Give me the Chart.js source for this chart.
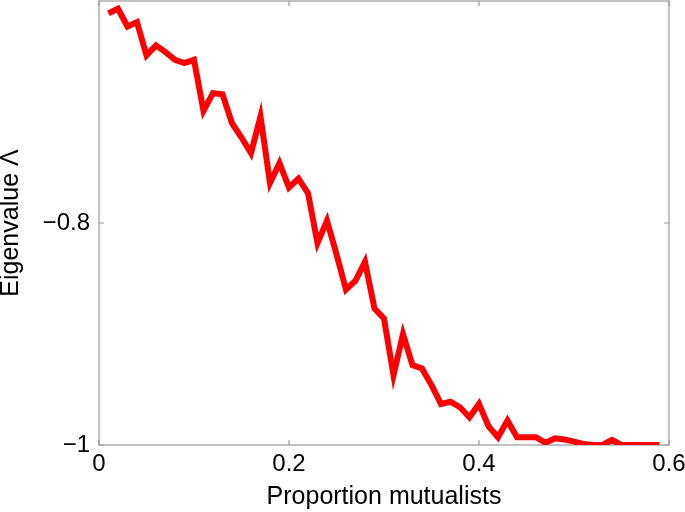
<!DOCTYPE html>
<html>
<head>
<meta charset="utf-8">
<script src="https://cdn.jsdelivr.net/npm/chart.js@4/dist/chart.umd.min.js"></script>
<style>
  html, body { margin: 0; padding: 0; background: #fff; }
  #wrap { width: 685px; height: 512px; position: relative; }
</style>
</head>
<body>
<div id="wrap"><canvas id="c" width="685" height="512"></canvas></div>
<script>
// ---- data ----
const proportions = [0.01,0.02,0.03,0.04,0.05,0.06,0.07,0.08,0.09,0.10,
  0.11,0.12,0.13,0.14,0.15,0.16,0.17,0.18,0.19,0.20,
  0.21,0.22,0.23,0.24,0.25,0.26,0.27,0.28,0.29,0.30,
  0.31,0.32,0.33,0.34,0.35,0.36,0.37,0.38,0.39,0.40,
  0.41,0.42,0.43,0.44,0.45,0.46,0.47,0.48,0.49,0.50,
  0.51,0.52,0.53,0.54,0.55,0.56,0.57,0.58,0.59];
const eigenvalues = [-0.611,-0.607,-0.623,-0.619,-0.649,-0.640,-0.646,-0.653,-0.656,-0.653,
  -0.699,-0.683,-0.684,-0.710,-0.723,-0.737,-0.704,-0.764,-0.746,-0.768,
  -0.760,-0.773,-0.818,-0.798,-0.828,-0.860,-0.852,-0.835,-0.877,-0.886,
  -0.937,-0.900,-0.928,-0.931,-0.946,-0.963,-0.961,-0.966,-0.975,-0.963,
  -0.983,-0.993,-0.978,-0.993,-0.993,-0.993,-0.998,-0.994,-0.995,-0.997,
  -0.999,-1.000,-1.000,-0.9955,-1.000,-1.000,-1.000,-1.000,-1.000];
const xTickValues = [0, 0.2, 0.4, 0.6];
const xTickLabels = ['0', '0.2', '0.4', '0.6'];
const yTickValues = [-1, -0.8];
const yTickLabels = ['\u22121', '\u22120.8'];
const xTitle = 'Proportion mutualists';
const yTitle = 'Eigenvalue \u039B';

// ---- drawing ----
const FONT = "'Liberation Sans', Arial, Helvetica, sans-serif";
const boxColor = '#9a9a9a';

const boxPlugin = {
  id: 'boxTicks',
  beforeDatasetsDraw(chart) {
    const {ctx, chartArea: a, scales} = chart;
    ctx.save();
    ctx.strokeStyle = boxColor;
    ctx.lineWidth = 1.2;
    ctx.strokeRect(a.left, a.top, a.right - a.left, a.bottom - a.top);
    const L = 5;
    ctx.beginPath();
    xTickValues.forEach(v => {
      const px = scales.x.getPixelForValue(v);
      ctx.moveTo(px, a.bottom); ctx.lineTo(px, a.bottom - L);
      ctx.moveTo(px, a.top); ctx.lineTo(px, a.top + L);
    });
    yTickValues.forEach(v => {
      const py = scales.y.getPixelForValue(v);
      ctx.moveTo(a.left, py); ctx.lineTo(a.left + L, py);
      ctx.moveTo(a.right, py); ctx.lineTo(a.right - L, py);
    });
    ctx.stroke();
    ctx.restore();
  }
};

new Chart(document.getElementById('c'), {
  type: 'line',
  data: {
    datasets: [{
      data: proportions.map((x, i) => ({x: x, y: eigenvalues[i]})),
      borderColor: '#ff0000',
      borderWidth: 6,
      pointRadius: 0,
      tension: 0,
      fill: false,
      borderJoinStyle: 'miter'
    }]
  },
  options: {
    responsive: false,
    animation: false,
    devicePixelRatio: 1,
    layout: { padding: { left: 0, right: 16, top: 1, bottom: 0 } },
    plugins: { legend: { display: false }, tooltip: { enabled: false } },
    scales: {
      x: {
        type: 'linear',
        min: 0, max: 0.6,
        afterBuildTicks(s) { s.ticks = xTickValues.map(v => ({value: v})); },
        afterFit(s) { s.height = 67; s.paddingLeft = 0; s.paddingRight = 0; },
        grid: { display: false, drawTicks: false },
        border: { display: false },
        ticks: {
          color: '#000', padding: 5,
          font: { family: FONT, size: 24 },
          maxRotation: 0,
          callback(v) { const i = xTickValues.indexOf(v); return i >= 0 ? xTickLabels[i] : ''; }
        },
        title: {
          display: true, text: xTitle, color: '#000',
          font: { family: FONT, size: 25 },
          padding: { top: 0, bottom: 0 }
        }
      },
      y: {
        type: 'linear',
        min: -1, max: -0.6,
        afterBuildTicks(s) { s.ticks = yTickValues.map(v => ({value: v})); },
        afterFit(s) { s.width = 99; s.paddingTop = 0; s.paddingBottom = 0; },
        grid: { display: false, drawTicks: false },
        border: { display: false },
        ticks: {
          color: '#000', padding: 9,
          font: { family: FONT, size: 24 },
          callback(v) { const i = yTickValues.indexOf(v); return i >= 0 ? yTickLabels[i] : ''; }
        },
        title: {
          display: true, text: yTitle, color: '#000',
          font: { family: FONT, size: 25 },
          padding: { top: -4, bottom: 0 }
        }
      }
    }
  },
  plugins: [boxPlugin]
});
</script>
</body>
</html>
